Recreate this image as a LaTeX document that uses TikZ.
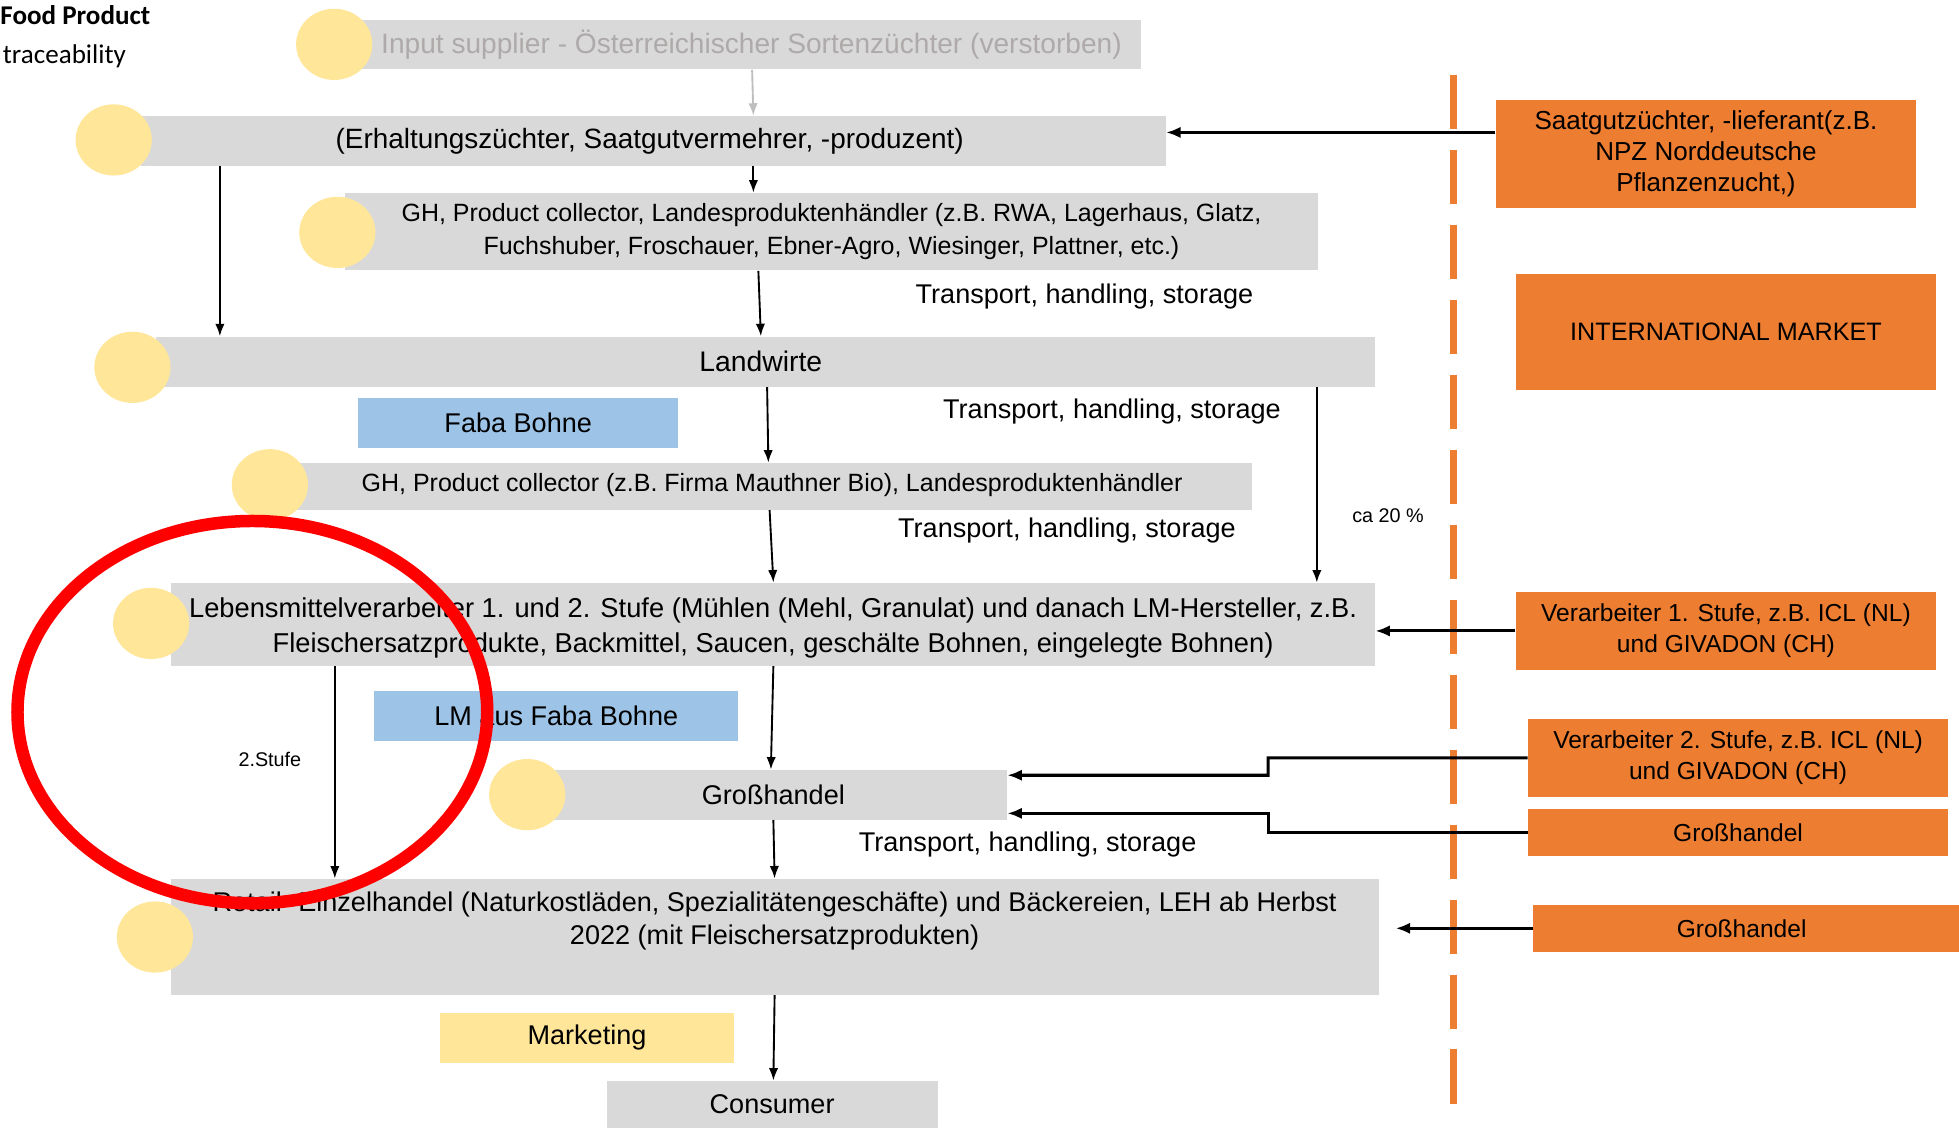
\documentclass[tikz,border=0pt]{standalone}
\usepackage{fontspec}
\setmainfont{Liberation Sans}
\newfontfamily\calfont{Carlito}
\usetikzlibrary{fit,shapes.geometric,arrows.meta}
\definecolor{boxgray}{HTML}{D9D9D9}
\definecolor{yel}{HTML}{FFE699}
\definecolor{blu}{HTML}{9DC3E6}
\definecolor{ora}{HTML}{ED7D31}
\definecolor{lighttext}{HTML}{AEAAAA}
\definecolor{arrgray}{HTML}{BFBFBF}
\begin{document}
\begin{tikzpicture}[x=0.6pt,y=-0.6pt,
  every node/.style={font=\fontsize{13}{15.6}\selectfont},
  gbox/.style={fill=boxgray, inner sep=0pt},
  obox/.style={fill=ora, inner sep=0pt},
  bbox/.style={fill=blu, inner sep=0pt},
  ybox/.style={fill=yel, inner sep=0pt},
  txt/.style={inner sep=0pt, align=center},
  otxt/.style={inner sep=0pt, align=center, font=\fontsize{11.8}{15}\selectfont},
  dot/.style={ellipse, fill=yel, minimum width=36.6pt, minimum height=34.2pt, inner sep=0pt},
  arr/.style={line width=0.9pt, -{Latex[length=6pt,width=4.5pt]}},
  harr/.style={line width=1.5pt, -{Latex[length=7pt,width=5.5pt]}},
  lbl/.style={inner sep=0pt},
  small/.style={font=\fontsize{9.5}{11}\selectfont},
]
\useasboundingbox (0,0) rectangle (1568,903);

% title
\node[lbl, anchor=base west, font=\calfont\bfseries\fontsize{13}{15}\selectfont] (title) at (0,20) {Food Product};
\node[lbl, anchor=base west, font=\calfont\fontsize{13}{15}\selectfont] (trace) at (2,51) {traceability};

% dashed border line
\draw[ora, line width=3.2pt, dash pattern=on 26pt off 10pt] (1163.6,60) -- (1163.6,885);

% grey boxes
\node[gbox, fit={(290,16) (913,55.5)}] (inp) {};
\node[txt, text=lighttext, font=\fontsize{13.5}{16}\selectfont] (inpT) at (inp.center) {Input supplier - Österreichischer Sortenzüchter (verstorben)};
\node[gbox, fit={(113,93) (933,132.5)}] (erh) {};
\node[txt, font=\fontsize{13.4}{16}\selectfont] (erhT) at (520,112.7) {(Erhaltungszüchter, Saatgutvermehrer, -produzent)};
\node[gbox, fit={(276,154.5) (1055,216.5)}] (gh) {};
\node[txt, font=\fontsize{12}{15.6}\selectfont] (ghT) at (gh.center) {GH, Product collector, Landesproduktenhändler (z.B. RWA, Lagerhaus, Glatz,\\Fuchshuber, Froschauer, Ebner-Agro, Wiesinger, Plattner, etc.)};
\node[gbox, fit={(125,269.5) (1100.5,309.5)}] (lw) {};
\node[txt, font=\fontsize{13.6}{16}\selectfont] (lwT) at (609,289.5) {Landwirte};
\node[bbox, fit={(286.6,318.6) (543,358.3)}] (faba) {};
\node[txt] (fabaT) at (faba.center) {Faba Bohne};
\node[gbox, fit={(236,370.6) (1002,408)}] (gm) {};
\node[txt, font=\fontsize{12}{14}\selectfont] (gmT) at (618,388.5) {GH, Product collector (z.B. Firma Mauthner Bio), Landesproduktenhändler};
\node[gbox, fit={(137.2,466.6) (1100.5,532.8)}] (lm) {};
\node[txt, font=\fontsize{13.1}{16.8}\selectfont] (lmT) at (618.8,502.5) {Lebensmittelverarbeiter 1. und 2. Stufe (Mühlen (Mehl, Granulat) und danach LM-Hersteller, z.B.\\Fleischersatzprodukte, Backmittel, Saucen, geschälte Bohnen, eingelegte Bohnen)};
\node[bbox, fit={(299.5,553) (591,592.8)}] (lmfb) {};
\node[txt] (lmfbT) at (lmfb.center) {LM aus Faba Bohne};
\node[gbox, fit={(443,616.3) (806,656)}] (grh) {};
\node[txt] (grhT) at (619,636) {Großhandel};
\node[gbox, fit={(137.2,703.5) (1103.4,796.1)}] (rt) {};
\node[txt] (rtT) at (620,737) {Retail- Einzelhandel (Naturkostläden, Spezialitätengeschäfte) und Bäckereien, LEH ab Herbst\\2022 (mit Fleischersatzprodukten)};
\node[ybox, fit={(352.3,810.8) (587.4,850.5)}] (mkt) {};
\node[txt] (mktT) at (mkt.center) {Marketing};
\node[gbox, fit={(486,865.2) (751,903)}] (con) {};
\node[txt] (conT) at (618,884) {Consumer};

% orange boxes
\node[obox, fit={(1197.3,80) (1533.6,166.2)}] (sa) {};
\node[txt, font=\fontsize{12.5}{14.7}\selectfont] (saT) at (sa.center) {Saatgutzüchter, -lieferant(z.B.\\NPZ Norddeutsche\\Pflanzenzucht,)};
\node[obox, fit={(1213.4,219.3) (1549.6,311.9)}] (im) {};
\node[txt, font=\fontsize{12.1}{15}\selectfont] (imT) at (im.center) {INTERNATIONAL MARKET};
\node[obox, fit={(1213.3,474) (1549.6,536)}] (v1) {};
\node[otxt] (v1T) at (v1.center) {Verarbeiter 1. Stufe, z.B. ICL (NL)\\und GIVADON (CH)};
\node[obox, fit={(1223,575.7) (1559.3,637.6)}] (v2) {};
\node[otxt] (v2T) at (v2.center) {Verarbeiter 2. Stufe, z.B. ICL (NL)\\und GIVADON (CH)};
\node[obox, fit={(1223,647.5) (1559.3,684.9)}] (g1) {};
\node[otxt] (g1T) at (g1.center) {Großhandel};
\node[obox, fit={(1227,724.3) (1568,761.7)}] (g2) {};
\node[otxt] (g2T) at (1394,743) {Großhandel};

% yellow dots
\node[dot] (d1) at (267.5,35.5) {};
\node[dot] (d2) at (91,112) {};
\node[dot] (d3) at (270,186) {};
\node[dot] (d4) at (106,294) {};
\node[dot] (d5) at (216,388) {};
\node[dot] (d6) at (121,499) {};
\node[dot] (d7) at (422,636) {};
\node[dot] (d8) at (124,750) {};

% flow arrows
\draw[arr, arrgray] (inp.south -| 602,0) -- (erh.north -| 603,0);
\draw[arr] (erh.south -| 603,0) -- (gh.north -| 603,0);
\draw[arr] (erh.south -| 176,0) -- (lw.north -| 176,0);
\draw[arr] (gh.south -| 607,0) -- (lw.north -| 609,0);
\draw[arr] (lw.south -| 614,0) -- (gm.north -| 615,0);
\draw[arr] (lw.south -| 1054,0) -- (lm.north -| 1054,0);
\draw[arr] (gm.south -| 616,0) -- (lm.north -| 619,0);
\draw[arr] (lm.south -| 619,0) -- (grh.north -| 617,0);
\draw[arr] (lm.south -| 268,0) -- (rt.north -| 268,0);
\draw[arr] (grh.south -| 619,0) -- (rt.north -| 620,0);
\draw[arr] (rt.south -| 620,0) -- (con.north -| 619,0);

% side arrows
\draw[harr] (sa.west |- 0,106) -- (erh.east |- 0,106);
\draw[harr] (v1.west) -- (lm.east |- v1.west);
\draw[harr] (v2.west) -- (1015,606.6) -- (1015,620.5) -- (grh.east |- 0,620.5);
\draw[harr] (g1.west) -- (1015,666.2) -- (1015,651) -- (grh.east |- 0,651);
\draw[harr] (g2.west) -- ([xshift=8pt]rt.east |- g2.west);

% labels
\node[lbl] (t1) at (868,237) {Transport, handling, storage};
\node[lbl] (t2) at (890,329.5) {Transport, handling, storage};
\node[lbl] (t3) at (854,424.5) {Transport, handling, storage};
\node[lbl] (t4) at (822.5,676) {Transport, handling, storage};
\node[lbl, small] (ca) at (1111,413) {ca 20 \%};
\node[lbl, small] (st) at (216,608) {2.Stufe};

% red ellipse
\draw[red, line width=6pt] (202,570) ellipse [x radius=188, y radius=153];
\end{tikzpicture}
\end{document}
